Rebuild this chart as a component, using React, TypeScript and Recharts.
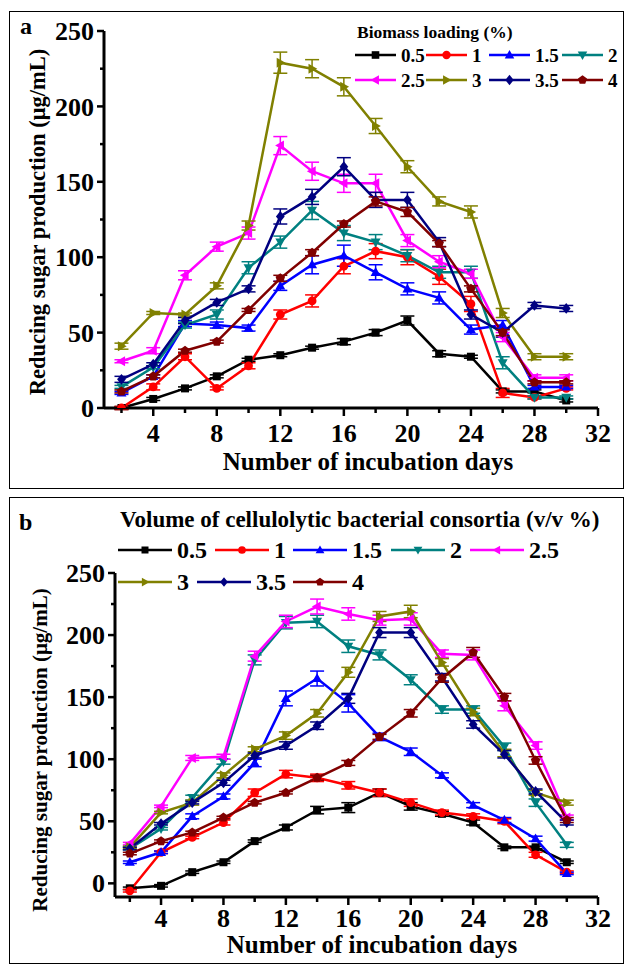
import { LineChart, Line, XAxis, YAxis, ErrorBar } from 'recharts';

// incubation days sampled
const days = [2, 4, 6, 8, 10, 12, 14, 16, 18, 20, 22, 24, 26, 28, 30];
const xTicks = [2, 4, 6, 8, 10, 12, 14, 16, 18, 20, 22, 24, 26, 28, 30, 32];
const yTicks = [0, 25, 50, 75, 100, 125, 150, 175, 200, 225, 250];
const levels = ['0.5', '1', '1.5', '2', '2.5', '3', '3.5', '4'];

// (a) biomass loading
const a05 = [0, 6, 13, 21, 32, 35, 40, 44, 50, 58, 36, 34, 11, 11, 5];
const a1 = [0, 14, 34, 13, 28, 62, 71, 94, 104, 100, 87, 69, 10, 7, 13];
const a15 = [10, 21, 56, 55, 53, 81, 95, 101, 90, 79, 73, 52, 55, 14, 14];
const a2 = [14, 27, 55, 62, 93, 110, 131, 116, 110, 101, 90, 90, 30, 7, 7];
const a25 = [31, 38, 88, 107, 116, 174, 157, 149, 149, 111, 97, 89, 47, 20, 20];
const a3 = [41, 63, 62, 81, 121, 229, 225, 213, 187, 160, 137, 130, 63, 34, 34];
const a35 = [19, 29, 58, 70, 79, 127, 140, 160, 138, 138, 110, 62, 50, 68, 66];
const a4 = [11, 21, 38, 44, 65, 86, 103, 122, 137, 130, 109, 79, 50, 17, 17];

const a05Err = [1, 1, 1, 1, 1, 1, 1, 2, 2, 3, 2, 1, 1, 1, 1];
const a1Err = [1, 2, 2, 1, 2, 3, 4, 5, 5, 5, 5, 5, 3, 1, 1];
const a15Err = [1, 1, 2, 2, 2, 3, 6, 7, 5, 4, 4, 3, 3, 1, 1];
const a2Err = [1, 1, 2, 3, 4, 4, 6, 5, 5, 4, 4, 4, 4, 1, 1];
const a25Err = [1, 2, 3, 3, 4, 6, 6, 6, 6, 4, 4, 3, 3, 2, 2];
const a3Err = [2, 1, 1, 2, 3, 7, 6, 6, 5, 4, 3, 4, 3, 2, 2];
const a35Err = [2, 1, 2, 2, 2, 5, 5, 6, 5, 5, 3, 3, 3, 2, 2];
const a4Err = [1, 1, 1, 1, 1, 2, 2, 2, 3, 3, 2, 2, 2, 1, 1];

// (b) volume of cellulolytic bacterial consortia
const b05 = [-4, -2, 9, 17, 34, 45, 59, 61, 73, 62, 56, 49, 29, 29, 17];
const b1 = [-6, 25, 37, 49, 73, 88, 85, 79, 73, 65, 57, 54, 50, 23, 9];
const b15 = [17, 25, 54, 70, 97, 149, 165, 145, 118, 106, 87, 63, 51, 36, 8];
const b2 = [28, 44, 69, 98, 180, 210, 211, 191, 184, 164, 140, 140, 110, 65, 31];
const b25 = [32, 62, 101, 102, 183, 211, 223, 217, 212, 213, 185, 184, 143, 111, 53];
const b3 = [29, 57, 65, 87, 108, 119, 137, 170, 215, 219, 178, 138, 105, 73, 65];
const b35 = [28, 48, 65, 81, 103, 111, 127, 149, 202, 202, 166, 128, 104, 74, 49];
const b4 = [24, 34, 41, 53, 65, 73, 85, 97, 118, 137, 165, 186, 150, 99, 51];

const b05Err = [1, 1, 1, 1, 1, 2, 3, 4, 3, 3, 2, 2, 1, 1, 1];
const b1Err = [1, 1, 1, 2, 3, 3, 3, 3, 3, 3, 2, 2, 2, 2, 1];
const b15Err = [1, 1, 2, 2, 3, 6, 6, 7, 3, 3, 2, 2, 2, 2, 1];
const b2Err = [1, 1, 2, 2, 4, 5, 5, 5, 4, 4, 3, 3, 3, 3, 2];
const b25Err = [1, 1, 2, 2, 4, 5, 6, 5, 4, 5, 3, 4, 4, 3, 2];
const b3Err = [1, 1, 2, 2, 2, 3, 3, 4, 4, 5, 3, 3, 3, 2, 2];
const b35Err = [1, 1, 1, 2, 2, 3, 3, 4, 4, 4, 3, 3, 3, 2, 2];
const b4Err = [1, 1, 1, 1, 1, 1, 2, 2, 2, 3, 3, 4, 3, 3, 2];

const seriesA = [a05, a1, a15, a2, a25, a3, a35, a4];
const errA = [a05Err, a1Err, a15Err, a2Err, a25Err, a3Err, a35Err, a4Err];
const seriesB = [b05, b1, b15, b2, b25, b3, b35, b4];
const errB = [b05Err, b1Err, b15Err, b2Err, b25Err, b3Err, b35Err, b4Err];

const colors = ['#000000', '#ff0000', '#0000ff', '#008080', '#ff00ff', '#808000', '#000080', '#800000'];
const shapes = ['square', 'circle', 'up', 'down', 'left', 'right', 'diamond', 'pentagon'];

const FONT = '"Liberation Serif", "Times New Roman", serif';

function buildRows(series: number[][], errs: number[][]) {
  return days.map((d, i) => {
    const row: any = { day: d };
    series.forEach((s, k) => {
      row['v' + k] = s[i];
      row['e' + k] = errs[k][i];
    });
    return row;
  });
}

const rowsA = buildRows(seriesA, errA);
const rowsB = buildRows(seriesB, errB);

function Marker({ shape, cx, cy, color, s }: any) {
  if (cx == null || cy == null) return <g />;
  const pts = (arr: number[][]) => arr.map(([x, y]) => `${cx + x * s},${cy + y * s}`).join(' ');
  switch (shape) {
    case 'square':
      return <rect x={cx - s} y={cy - s} width={2 * s} height={2 * s} fill={color} />;
    case 'circle':
      return <circle cx={cx} cy={cy} r={s * 1.1} fill={color} />;
    case 'up':
      return <polygon points={pts([[0, -1.3], [1.25, 0.9], [-1.25, 0.9]])} fill={color} />;
    case 'down':
      return <polygon points={pts([[0, 1.3], [1.25, -0.9], [-1.25, -0.9]])} fill={color} />;
    case 'left':
      return <polygon points={pts([[-1.3, 0], [0.9, -1.25], [0.9, 1.25]])} fill={color} />;
    case 'right':
      return <polygon points={pts([[1.3, 0], [-0.9, -1.25], [-0.9, 1.25]])} fill={color} />;
    case 'diamond':
      return <polygon points={pts([[0, -1.35], [1.1, 0], [0, 1.35], [-1.1, 0]])} fill={color} />;
    default: {
      const p = [0, 1, 2, 3, 4].map((j) => {
        const a = -Math.PI / 2 + (j * 2 * Math.PI) / 5;
        return [1.25 * Math.cos(a), 1.25 * Math.sin(a)];
      });
      return <polygon points={pts(p)} fill={color} />;
    }
  }
}

function XTick({ x, y, payload, labelDy }: any) {
  const major = payload.value % 4 === 0;
  return (
    <g>
      <line x1={x} x2={x} y1={y} y2={y + (major ? 8 : 5)} stroke="#000" strokeWidth={2.5} />
      {major && (
        <text x={x} y={y + labelDy} textAnchor="middle" fontFamily={FONT} fontWeight="bold" fontSize={26} fill="#000">
          {payload.value}
        </text>
      )}
    </g>
  );
}

function YTick({ x, y, payload }: any) {
  const major = payload.value % 50 === 0;
  return (
    <g>
      <line x1={x - (major ? 7 : 4)} x2={x} y1={y} y2={y} stroke="#000" strokeWidth={2.5} />
      {major && (
        <text x={x - 10} y={y} dy="0.35em" textAnchor="end" fontFamily={FONT} fontWeight="bold" fontSize={26} fill="#000">
          {payload.value}
        </text>
      )}
    </g>
  );
}

function Panel({ rows, height, top, yAxisWidth, xDomain, yDomain, labelDy, prefix }: any) {
  return (
    <div style={{ position: 'absolute', left: 0, top }}>
      <LineChart width={625} height={height} data={rows} margin={{ top: top === 0 ? 31 : 83, right: 27, bottom: 0, left: 0 }}>
        <XAxis
          dataKey="day"
          type="number"
          domain={xDomain}
          allowDataOverflow
          ticks={xTicks}
          interval={0}
          height={height - (top === 0 ? 408 : 407)}
          axisLine={{ stroke: '#000', strokeWidth: 3 }}
          tickLine={false}
          tickSize={0}
          tickMargin={0}
          tick={<XTick labelDy={labelDy} />}
        />
        <YAxis
          type="number"
          domain={yDomain}
          allowDataOverflow
          ticks={yTicks}
          interval={0}
          width={yAxisWidth}
          axisLine={{ stroke: '#000', strokeWidth: 3 }}
          tickLine={false}
          tickSize={0}
          tickMargin={0}
          tick={<YTick />}
        />
        {colors.map((c, k) => (
          <Line
            key={k}
            type="linear"
            dataKey={'v' + k}
            stroke={c}
            strokeWidth={2.5}
            isAnimationActive={false}
            activeDot={false}
            dot={(p: any) => <Marker key={`${prefix}${k}-${p.index}`} shape={shapes[k]} cx={p.cx} cy={p.cy} color={c} s={4} />}
          >
            <ErrorBar dataKey={'e' + k} width={7} strokeWidth={1.5} stroke={c} direction="y" isAnimationActive={false} />
          </Line>
        ))}
      </LineChart>
    </div>
  );
}

function LegendBlock({ title, titleX, titleY, titleSize, rowsY, cols, lineLen, labelSize, markerSize }: any) {
  const items: any[] = [];
  let idx = 0;
  rowsY.forEach((ry: number, r: number) => {
    cols[r].forEach((cx: number) => {
      const k = idx++;
      items.push(
        <g key={k}>
          <line x1={cx} x2={cx + lineLen} y1={ry} y2={ry} stroke={colors[k]} strokeWidth={2.5} />
          <Marker shape={shapes[k]} cx={cx + lineLen / 2} cy={ry} color={colors[k]} s={markerSize} />
          <text x={cx + lineLen + 5} y={ry} dy="0.35em" fontFamily={FONT} fontWeight="bold" fontSize={labelSize} fill="#000">
            {levels[k]}
          </text>
        </g>
      );
    });
  });
  return (
    <g>
      <text x={titleX} y={titleY} fontFamily={FONT} fontWeight="bold" fontSize={titleSize} fill="#000">
        {title}
      </text>
      {items}
    </g>
  );
}

export default function App() {
  const yTitle = 'Reducing sugar production (μg/mL)';
  return (
    <div style={{ position: 'absolute', left: 0, top: 0, width: 625, height: 969, background: '#fff' }}>
      <div style={{ position: 'absolute', left: 9, top: 11, width: 613, height: 476, border: '1.5px solid #000' }} />
      <div style={{ position: 'absolute', left: 9, top: 497, width: 613, height: 465, border: '1.5px solid #000' }} />
      <Panel rows={rowsA} height={488} top={0} yAxisWidth={104} xDomain={[0.9, 32]} yDomain={[0, 250]} labelDy={34} prefix="a" />
      <Panel rows={rowsB} height={475} top={490} yAxisWidth={115} xDomain={[1.05, 32]} yDomain={[-11, 250]} labelDy={30} prefix="b" />
      <svg width={625} height={969} style={{ position: 'absolute', left: 0, top: 0, pointerEvents: 'none' }}>
        <text x={20} y={34} fontFamily={FONT} fontWeight="bold" fontSize={24}>a</text>
        <text x={19} y={530} fontFamily={FONT} fontWeight="bold" fontSize={24}>b</text>
        <text x={368} y={470} textAnchor="middle" fontFamily={FONT} fontWeight="bold" fontSize={25}>
          Number of incubation days
        </text>
        <text x={372} y={953} textAnchor="middle" fontFamily={FONT} fontWeight="bold" fontSize={25}>
          Number of incubation days
        </text>
        <text x={37} y={222} dy="0.35em" transform="rotate(-90 37 222)" textAnchor="middle" fontFamily={FONT} fontWeight="bold" fontSize={22.5}>
          {yTitle}
        </text>
        <text x={40} y={750} dy="0.35em" transform="rotate(-90 40 750)" textAnchor="middle" fontFamily={FONT} fontWeight="bold" fontSize={21}>
          {yTitle}
        </text>
        <LegendBlock
          title="Biomass loading (%)"
          titleX={357}
          titleY={38}
          titleSize={17.5}
          rowsY={[55, 80]}
          cols={[[355, 426, 489, 562], [355, 426, 489, 562]]}
          lineLen={41}
          labelSize={19}
          markerSize={3.8}
        />
        <LegendBlock
          title="Volume of cellulolytic bacterial consortia (v/v %)"
          titleX={120}
          titleY={527}
          titleSize={23}
          rowsY={[550, 582]}
          cols={[[118, 215, 293, 391, 470], [118, 197, 293]]}
          lineLen={54}
          labelSize={24}
          markerSize={3.5}
        />
      </svg>
    </div>
  );
}
